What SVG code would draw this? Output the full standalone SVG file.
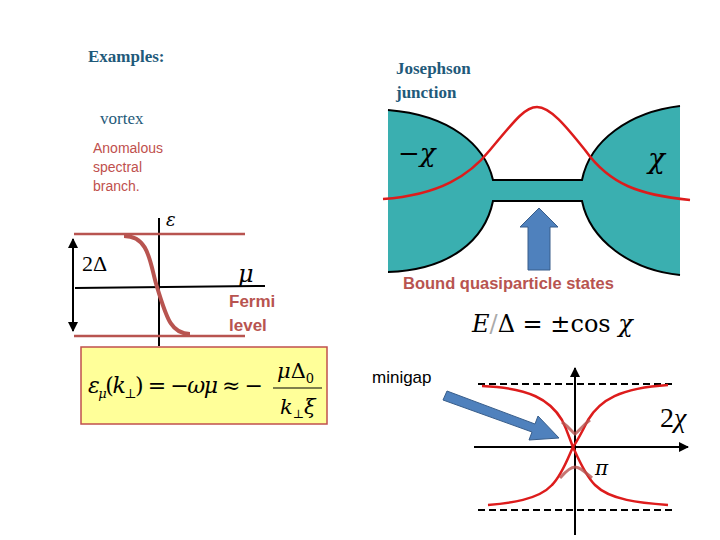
<svg xmlns="http://www.w3.org/2000/svg" width="720" height="540" viewBox="0 0 720 540">
<style>
.ser{font-family:"Liberation Serif",serif}
.hd{font-family:"Liberation Serif",serif;font-weight:bold;font-size:17px;fill:#1f5a7a}
.rc{stroke:#dd1c1c;stroke-width:2.5;fill:none}
.bk{stroke:#000;stroke-width:2;fill:none}
.m{font-family:"DejaVu Serif","Liberation Serif",serif;font-style:italic}
</style>
<defs>
<marker id="ah" viewBox="0 0 10 10" refX="9" refY="5" markerWidth="5" markerHeight="5" orient="auto-start-reverse"><path d="M0,0L10,5L0,10z" fill="#000"/></marker>
</defs>
<rect width="720" height="540" fill="#fff"/>
<text class="hd" x="88" y="62">Examples:</text>
<text class="hd" x="396" y="74">Josephson</text>
<text class="hd" x="396" y="98">junction</text>
<text class="ser" x="100" y="124" font-size="17" fill="#1f5a7a">vortex</text>
<g font-family="Liberation Sans,sans-serif" font-size="14" fill="#c0504d">
<text x="93" y="153">Anomalous</text><text x="93" y="172">spectral</text><text x="93" y="191">branch.</text></g>

<g id="vortex-plot">
<line class="bk" x1="159" y1="218" x2="159" y2="346"/>
<line class="bk" x1="75" y1="288" x2="265" y2="286"/>
<line x1="74" y1="234" x2="245" y2="234" stroke="#b85450" stroke-width="2.5"/>
<line x1="74" y1="336" x2="245" y2="336" stroke="#b85450" stroke-width="2.5"/>
<line class="bk" x1="73" y1="239" x2="73" y2="331" marker-start="url(#ah)" marker-end="url(#ah)"/>
<path d="M124,236 C150,236 150,265 157,287 C166,315 170,334 190,334" stroke="#b85450" stroke-width="4" fill="none"/>
<text class="m" x="166" y="226" font-size="18">ε</text>
<text class="ser" x="82" y="271" font-size="22">2Δ</text>
<text class="m" x="238" y="282" font-size="24">μ</text>
<g font-family="Liberation Sans,sans-serif" font-size="17" font-weight="bold" fill="#b85450"><text x="229" y="307">Fermi</text><text x="229" y="331">level</text></g>
</g>
<g id="formula">
<rect x="81" y="347" width="246" height="77" fill="#ffff99" stroke="#c0504d" stroke-width="1.5"/>
<text class="m" x="88" y="393" font-size="22" textLength="175">ε<tspan font-size="13" dy="5">μ</tspan><tspan dy="-5" font-style="normal">(</tspan>k<tspan font-size="13" dy="5" font-style="normal">⊥</tspan><tspan dy="-5" font-style="normal">) = −</tspan>ωμ<tspan font-style="normal"> ≈ −</tspan></text>
<text class="m" x="277" y="378" font-size="21">μ<tspan font-style="normal">Δ</tspan><tspan font-size="13" dy="5" font-style="normal">0</tspan></text>
<line x1="273" y1="388" x2="322" y2="388" stroke="#000" stroke-width="1.2"/>
<text class="m" x="280" y="414" font-size="21">k<tspan font-size="12" dy="4" font-style="normal">⊥</tspan><tspan dy="-4">ξ</tspan></text>
</g>

<g id="junction">
<path d="M388,110 C450,115 485,145 493,180 L582,180 C590,140 630,112 680,106 L680,275 C630,270 590,240 582,201 L493,201 C485,240 450,270 388,272 Z" fill="#3aafb0"/>
<path class="bk" stroke-width="3" d="M388,110 C450,115 485,145 493,180 L582,180 C590,140 630,112 680,106"/>
<path class="bk" stroke-width="3" d="M388,272 C450,270 485,240 493,201 L582,201 C590,240 630,270 680,275"/>
<path class="rc" stroke-width="3" d="M383,199 C440,195 470,175 490,150 C515,120 525,107 537,107 C550,107 565,125 585,150 C610,185 640,195 690,200"/>
<text class="m" x="398" y="162" font-size="26">−χ</text>
<text class="m" x="648" y="168" font-size="28">χ</text>
<path d="M528,270 L528,227 L520,227 L539,208 L558,227 L550,227 L550,270 Z" fill="#4f81bd" stroke="#385d8a" stroke-width="1"/>
<text x="403" y="289" font-family="Liberation Sans,sans-serif" font-size="16.5" font-weight="bold" fill="#b85450">Bound quasiparticle states</text>
<text class="m" x="472" y="332" font-size="24">E<tspan font-style="normal" fill="#aaa">/</tspan><tspan font-style="normal">Δ = ±cos </tspan>χ</text>
</g>

<g id="minigap-plot">
<line x1="478" y1="384" x2="672" y2="384" stroke="#000" stroke-width="2" stroke-dasharray="7,4"/>
<line x1="478" y1="510" x2="672" y2="510" stroke="#000" stroke-width="2" stroke-dasharray="7,4"/>
<line class="bk" stroke-width="3" x1="575" y1="535" x2="575" y2="368" marker-end="url(#ah)"/>
<line class="bk" stroke-width="3" x1="474" y1="447" x2="688" y2="447" marker-end="url(#ah)"/>
<path class="rc" stroke-width="2" d="M482,386 C530,388 550,400 562,420 C568,432 570,440 573,447 C578,458 585,475 595,485 C610,500 640,503 668,505"/>
<path class="rc" stroke-width="2" d="M668,385 C620,388 600,400 588,420 C582,432 578,440 573,447 C568,458 562,475 552,485 C538,500 510,503 488,505"/>
<path d="M562,422 C570,428 572,432 575,434 C580,430 583,425 590,420" stroke="#b85450" stroke-width="3" fill="none" opacity="0.8"/>
<path d="M560,478 C567,470 572,467 575,467 C580,467 585,472 592,478" stroke="#b85450" stroke-width="3" fill="none" opacity="0.8"/>
<text class="m" x="595" y="475" font-size="20">π</text>
<text class="ser" x="660" y="427" font-size="28">2<tspan font-style="italic">χ</tspan></text>
<text x="372" y="383" font-family="Liberation Sans,sans-serif" font-size="17">minigap</text>
<path d="M447,391 L535,424 L538,416 L559,438 L529,440 L532,432 L443,400 Z" fill="#4f81bd" stroke="#385d8a" stroke-width="1"/>
</g>
</svg>
